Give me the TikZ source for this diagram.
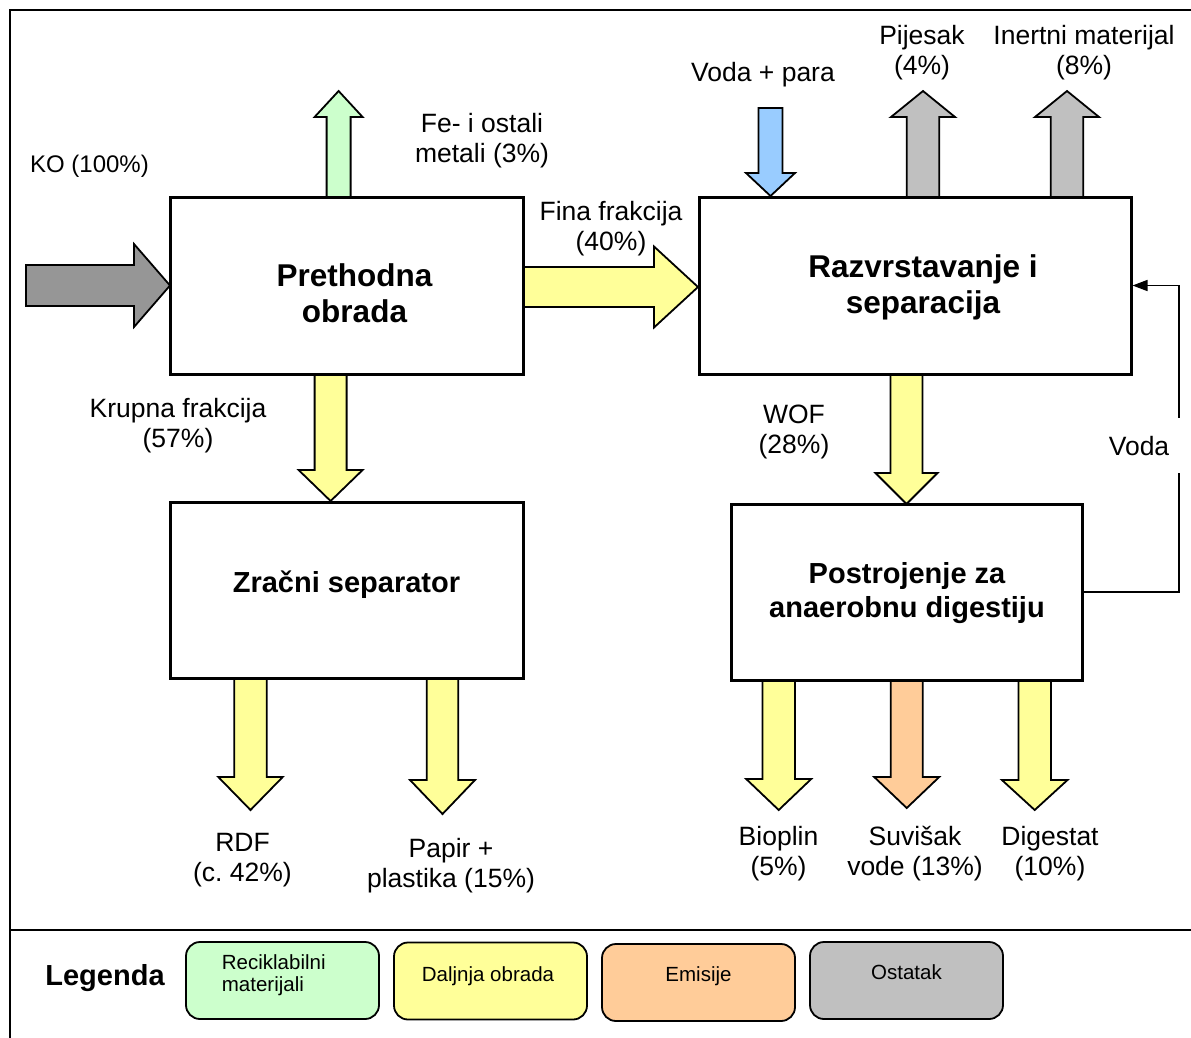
\documentclass[tikz,border=0pt]{standalone}
\usepackage{fontspec}
\setmainfont{Liberation Sans}
\usetikzlibrary{arrows.meta}

\definecolor{flowylw}{HTML}{FFFF99}
\definecolor{flowgrn}{HTML}{CCFFCC}
\definecolor{flowora}{HTML}{FFCC99}
\definecolor{flowblu}{HTML}{99CCFF}
\definecolor{flowgry}{HTML}{C0C0C0}
\definecolor{flowdgry}{HTML}{969696}

% stacked centred lines, baseline on the first line
\newcommand\mlines[1]{\begin{tabular}[t]{@{}c@{}}#1\end{tabular}}
\newcommand\mlinesl[1]{\begin{tabular}[t]{@{}l@{}}#1\end{tabular}}

% vertical block arrow: fill, x centre, y start, y head base, y tip, shaft half width, head half width
\newcommand\vblk[7]{%
  \draw[blk,fill=#1] (#2-#6,#3) -- (#2+#6,#3) -- (#2+#6,#4) -- (#2+#7,#4) -- (#2,#5)
    -- (#2-#7,#4) -- (#2-#6,#4) -- cycle;}
% horizontal block arrow: fill, y centre, x start, x head base, x tip, shaft half width, head half width
\newcommand\hblk[7]{%
  \draw[blk,fill=#1] (#3,#2-#6) -- (#4,#2-#6) -- (#4,#2-#7) -- (#5,#2) -- (#4,#2+#7)
    -- (#4,#2+#6) -- (#3,#2+#6) -- cycle;}

\tikzset{
  blk/.style={draw=black, line width=1.8pt, line join=miter},
  procbox/.style={draw=black, fill=white, line width=3pt, inner sep=0pt},
  legbox/.style={draw=black, line width=1.8pt, rounded corners=14pt, inner sep=0pt,
    minimum width=193pt, minimum height=77pt},
  frameline/.style={draw=black, line width=2pt},
  fbline/.style={draw=black, line width=1.5pt},
  lbl/.style={inner sep=0pt, anchor=base, font=\fontsize{26.5}{30}\selectfont},
  boxtxt/.style={inner sep=0pt, anchor=base, font=\fontsize{31.5}{36}\selectfont\bfseries},
  boxtxtb/.style={inner sep=0pt, anchor=base, font=\fontsize{29}{33.5}\selectfont\bfseries},
  legtxt/.style={inner sep=0pt, anchor=base, font=\fontsize{20.5}{22}\selectfont},
}

\begin{document}
\begin{tikzpicture}[x=1pt, y=-1pt]
\useasboundingbox (0,0) rectangle (1191,1037);
\fill[white] (0,0) rectangle (1191,1037);

% frame and legend separator
\draw[frameline] (10,1040) -- (10,9.5) -- (1195,9.5);
\draw[frameline] (10,930) -- (1195,930);

% block arrows (material flows)
\hblk{flowdgry}{285.5}{26}{134}{170}{20.5}{41.5}
\hblk{flowylw}{287}{523}{654}{698}{20}{40.5}
\vblk{flowgrn}{338.6}{197}{117}{91}{12}{24}
\vblk{flowylw}{330.6}{374}{470}{501}{16}{32}
\vblk{flowblu}{770.5}{108}{173}{196}{12}{24.5}
\vblk{flowgry}{923}{197}{117}{91}{16.3}{32}
\vblk{flowgry}{1067}{197}{117}{91}{16.3}{32}
\vblk{flowylw}{906.5}{374}{473}{504}{16}{31}
\vblk{flowylw}{250.5}{678}{777}{810}{16.2}{32.2}
\vblk{flowylw}{442.5}{678}{780}{814}{15.8}{32.5}
\vblk{flowylw}{778.7}{680}{779}{810}{16.3}{32.5}
\vblk{flowora}{906.7}{679}{777}{808}{16}{32.5}
\vblk{flowylw}{1034.7}{680}{780}{810}{16.3}{32.8}

% process boxes
\node[procbox, minimum width=353pt, minimum height=177pt] (pre) at (346.5,285.5) {};
\node[procbox, minimum width=432pt, minimum height=177pt] (sort) at (915,285.5) {};
\node[procbox, minimum width=353pt, minimum height=176pt] (air) at (346.5,590) {};
\node[procbox, minimum width=351pt, minimum height=176pt] (dig) at (906.5,592) {};

\node[boxtxt] (preT) at (354.5,286) {\mlines{Prethodna\\obrada}};
\node[boxtxt] (sortT) at (923,277) {\mlines{Razvrstavanje i\\separacija}};
\node[boxtxtb] (airT) at (346.5,592) {Zračni separator};
\node[boxtxtb] (digT) at (907,583.5) {\mlines{Postrojenje za\\anaerobnu digestiju}};

% water recirculation
\coordinate (fbx) at (1179,450);
\draw[fbline, -{Triangle[length=15pt,width=11pt]}] (dig.east) -| (fbx) |- (sort.east);
\node[lbl, fill=white, inner xsep=11pt, inner ysep=18pt] (voda) at (1139,455) {Voda};

% flow labels
\node[lbl, font=\fontsize{24}{28}\selectfont] (ko) at (89.5,172) {KO (100\%)};
\node[lbl] (fe) at (482,132) {\mlines{Fe- i ostali\\metali (3\%)}};
\node[lbl] (fina) at (611,220) {\mlines{Fina frakcija\\(40\%)}};
\node[lbl] (para) at (763,81) {Voda + para};
\node[lbl] (pij) at (922,44.5) {\mlines{Pijesak\\(4\%)}};
\node[lbl] (inert) at (1084,44.5) {\mlines{Inertni materijal\\(8\%)}};
\node[lbl] (krup) at (178,417) {\mlines{Krupna frakcija\\(57\%)}};
\node[lbl] (wof) at (794,423) {\mlines{WOF\\(28\%)}};
\node[lbl] (rdf) at (242.5,851) {\mlines{RDF\\(c.\ 42\%)}};
\node[lbl] (pap) at (451,857) {\mlines{Papir +\\plastika (15\%)}};
\node[lbl] (bio) at (778.5,845) {\mlines{Bioplin\\(5\%)}};
\node[lbl] (suv) at (915,845) {\mlines{Suvišak\\vode (13\%)}};
\node[lbl] (dgs) at (1050,845) {\mlines{Digestat\\(10\%)}};

% legend
\node[inner sep=0pt, anchor=base, font=\fontsize{29}{33}\selectfont\bfseries] (leg) at (105,985) {Legenda};
\node[legbox, fill=flowgrn] (lg1) at (282.5,980.5) {};
\node[legbox, fill=flowylw] (lg2) at (490.5,981) {};
\node[legbox, fill=flowora] (lg3) at (698.5,982.5) {};
\node[legbox, fill=flowgry] (lg4) at (906.5,980.5) {};
\node[legtxt, anchor=base west] (lg1T) at (221.7,969) {\mlinesl{Reciklabilni\\materijali}};
\node[legtxt] (lg2T) at (488,981.7) {Daljnja obrada};
\node[legtxt] (lg3T) at (698.5,981.7) {Emisije};
\node[legtxt] (lg4T) at (906.5,979.5) {Ostatak};
\end{tikzpicture}
\end{document}
